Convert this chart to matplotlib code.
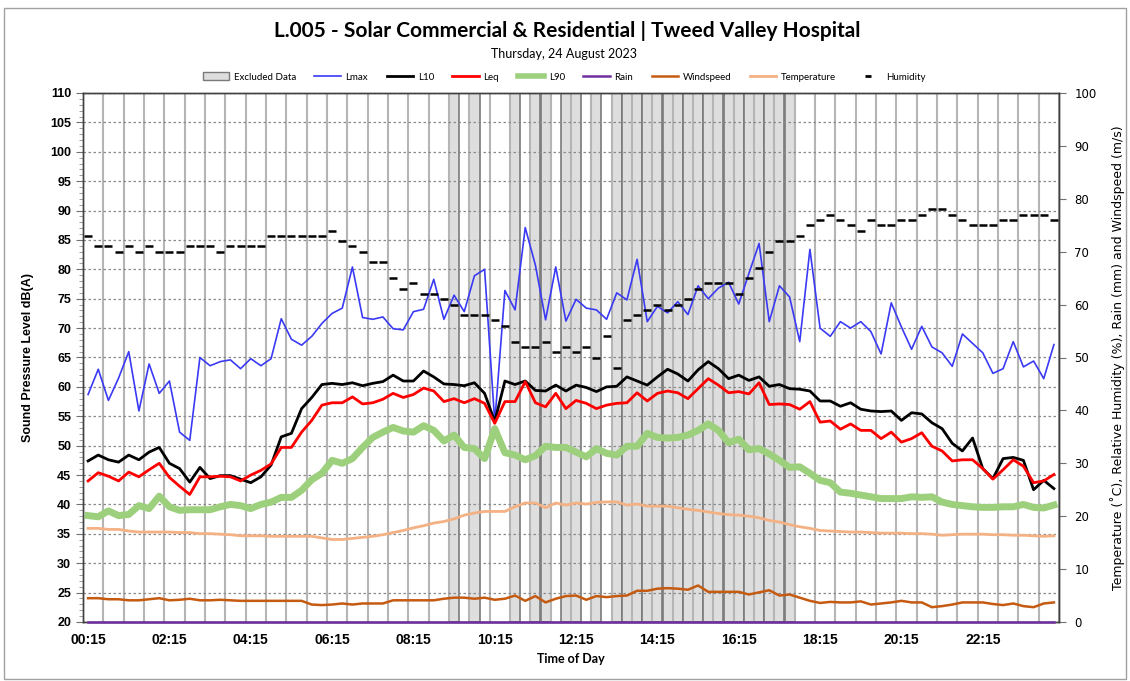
import numpy as np
import matplotlib.pyplot as plt
from matplotlib.patches import Patch, Rectangle
from matplotlib.lines import Line2D

# one value per 15 minute interval, 00:15 ... 24:00
tick_labels = ['00:15', '02:15', '04:15', '06:15', '08:15', '10:15',
               '12:15', '14:15', '16:15', '18:15', '20:15', '22:15']

# 1 = interval excluded from the analysis (grey column)
excluded = [0, 0, 0, 0, 0, 0, 0, 0, 0, 0, 0, 0, 0, 0, 0, 0, 0, 0, 0, 0, 0, 0, 0, 0,
            0, 0, 0, 0, 0, 0, 0, 0, 0, 0, 0, 0, 1, 0, 1, 0, 0, 0, 1, 0, 1, 1, 0, 1,
            1, 0, 1, 0, 1, 1, 1, 1, 1, 1, 1, 1, 1, 1, 1, 1, 1, 1, 1, 1, 1, 1, 0, 0,
            0, 0, 0, 0, 0, 0, 0, 0, 0, 0, 0, 0, 0, 0, 0, 0, 0, 0, 0, 0, 0, 0, 0, 0]

lmax = [58.7, 63.0, 57.7, 61.5, 66.0, 55.9, 63.9, 58.9, 61.0, 52.3, 50.9, 65.0,
        63.6, 64.3, 64.6, 63.1, 64.8, 63.6, 64.8, 71.6, 68.1, 67.1, 68.6, 70.8,
        72.5, 73.4, 80.4, 71.8, 71.5, 71.9, 69.9, 69.7, 72.8, 73.2, 78.3, 71.5,
        75.6, 72.8, 78.9, 80.0, 54.0, 76.4, 73.1, 87.1, 80.7, 71.4, 80.4, 71.2,
        74.9, 73.4, 73.1, 71.5, 76.0, 74.8, 81.7, 71.1, 73.7, 72.6, 74.5, 72.3,
        77.2, 75.0, 76.8, 77.8, 74.1, 79.3, 84.4, 71.1, 77.2, 75.3, 67.7, 83.4,
        70.0, 68.6, 71.1, 70.0, 71.1, 69.4, 65.6, 74.3, 70.2, 66.4, 70.3, 66.8,
        65.8, 63.5, 69.0, 67.4, 65.8, 62.3, 63.1, 67.7, 63.4, 64.4, 61.4, 67.2]

l10 = [47.4, 48.4, 47.6, 47.2, 48.4, 47.6, 48.9, 49.7, 47.0, 46.1, 43.8, 46.3,
       44.4, 44.9, 44.9, 44.3, 43.7, 44.7, 46.7, 51.5, 52.1, 56.3, 58.2, 60.4,
       60.6, 60.4, 60.7, 60.2, 60.6, 60.9, 62.0, 61.0, 61.0, 62.7, 61.7, 60.5,
       60.4, 60.2, 60.7, 58.9, 54.1, 61.0, 60.4, 61.0, 59.4, 59.3, 60.3, 59.3,
       60.3, 59.9, 59.2, 60.0, 60.1, 61.7, 61.0, 60.3, 61.7, 63.0, 62.2, 61.0,
       62.9, 64.3, 63.1, 61.4, 62.0, 61.1, 61.7, 60.1, 60.4, 59.7, 59.6, 59.3,
       57.6, 57.6, 56.7, 57.3, 56.2, 55.9, 55.8, 55.9, 54.3, 55.6, 55.4, 53.9,
       52.9, 50.4, 49.1, 51.3, 46.1, 44.4, 47.8, 48.0, 47.5, 42.5, 44.1, 42.7]

leq = [44.0, 45.4, 44.8, 44.0, 45.5, 44.7, 45.9, 47.0, 44.6, 43.1, 41.7, 44.7,
       44.7, 44.8, 44.7, 44.0, 45.0, 45.8, 46.9, 49.7, 49.7, 52.3, 54.3, 56.9,
       57.3, 57.3, 58.3, 57.1, 57.3, 57.9, 58.9, 58.2, 58.7, 59.8, 59.3, 57.5,
       58.0, 57.3, 58.0, 57.2, 53.8, 57.5, 57.5, 60.9, 57.3, 56.6, 58.9, 56.3,
       57.7, 57.2, 56.3, 56.9, 57.2, 57.3, 59.0, 57.6, 58.9, 59.3, 59.0, 58.0,
       59.7, 61.4, 60.3, 59.0, 59.2, 58.8, 60.7, 57.0, 57.1, 57.0, 56.2, 57.5,
       54.0, 54.2, 52.8, 53.7, 52.6, 52.6, 51.2, 52.3, 50.6, 51.2, 52.2, 49.9,
       49.1, 47.4, 47.6, 47.6, 46.1, 44.3, 45.9, 47.6, 46.5, 43.7, 44.0, 45.1]

l90 = [38.1, 37.9, 38.9, 38.1, 38.3, 39.8, 39.3, 41.4, 39.6, 39.0, 39.1, 39.1,
       39.1, 39.6, 40.0, 39.8, 39.3, 40.0, 40.4, 41.2, 41.2, 42.4, 44.2, 45.3,
       47.5, 47.0, 47.8, 49.7, 51.4, 52.3, 53.1, 52.5, 52.3, 53.4, 52.6, 50.8,
       51.8, 49.7, 49.5, 47.8, 52.9, 48.8, 48.4, 47.6, 48.3, 49.9, 49.7, 49.7,
       48.9, 48.1, 49.5, 48.7, 48.4, 49.9, 49.9, 52.1, 51.4, 51.3, 51.4, 51.8,
       52.6, 53.7, 52.6, 50.5, 51.1, 49.3, 49.5, 48.6, 47.5, 46.3, 46.4, 45.3,
       44.1, 43.7, 42.1, 41.9, 41.6, 41.3, 41.0, 41.0, 41.0, 41.3, 41.2, 41.3,
       40.4, 40.0, 39.8, 39.6, 39.5, 39.5, 39.6, 39.6, 40.0, 39.5, 39.4, 39.9]

rain = [0, 0, 0, 0, 0, 0, 0, 0, 0, 0, 0, 0, 0, 0, 0, 0, 0, 0, 0, 0, 0, 0, 0, 0,
        0, 0, 0, 0, 0, 0, 0, 0, 0, 0, 0, 0, 0, 0, 0, 0, 0, 0, 0, 0, 0, 0, 0, 0,
        0, 0, 0, 0, 0, 0, 0, 0, 0, 0, 0, 0, 0, 0, 0, 0, 0, 0, 0, 0, 0, 0, 0, 0,
        0, 0, 0, 0, 0, 0, 0, 0, 0, 0, 0, 0, 0, 0, 0, 0, 0, 0, 0, 0, 0, 0, 0, 0]

windspeed = [4.5, 4.5, 4.3, 4.3, 4.1, 4.1, 4.3, 4.5, 4.1, 4.2, 4.4, 4.1,
             4.1, 4.2, 4.1, 4.0, 4.0, 4.0, 4.0, 4.0, 4.0, 4.0, 3.3, 3.2,
             3.3, 3.5, 3.3, 3.5, 3.5, 3.5, 4.1, 4.1, 4.1, 4.1, 4.1, 4.4,
             4.6, 4.6, 4.4, 4.6, 4.2, 4.4, 5.0, 4.0, 4.9, 3.7, 4.4, 4.9,
             5.0, 4.2, 4.9, 4.7, 4.9, 5.0, 5.9, 5.9, 6.3, 6.4, 6.3, 6.1,
             6.9, 5.7, 5.7, 5.7, 5.7, 5.2, 5.6, 6.0, 5.0, 5.2, 4.6, 4.0,
             3.6, 3.8, 3.7, 3.7, 3.9, 3.3, 3.5, 3.7, 4.0, 3.7, 3.7, 2.8,
             3.0, 3.3, 3.7, 3.7, 3.7, 3.4, 3.2, 3.5, 3.0, 2.8, 3.5, 3.7]

temperature = [17.7, 17.7, 17.5, 17.5, 17.2, 17.0, 17.0, 17.0, 17.0, 16.9, 16.9, 16.7,
               16.7, 16.6, 16.5, 16.3, 16.3, 16.3, 16.2, 16.2, 16.2, 16.2, 16.2, 15.9,
               15.6, 15.6, 15.8, 16.0, 16.2, 16.5, 16.9, 17.3, 17.8, 18.2, 18.7, 19.0,
               19.5, 20.2, 20.6, 20.9, 20.9, 20.9, 21.8, 22.5, 22.5, 21.6, 22.5, 22.1,
               22.5, 22.3, 22.6, 22.7, 22.7, 22.1, 22.3, 21.9, 21.9, 21.9, 21.6, 21.3,
               21.1, 20.8, 20.5, 20.3, 20.2, 20.0, 19.7, 19.2, 18.9, 18.4, 18.0, 17.7,
               17.3, 17.2, 17.1, 17.0, 17.0, 16.9, 16.8, 16.8, 16.8, 16.7, 16.7, 16.6,
               16.4, 16.5, 16.6, 16.6, 16.6, 16.5, 16.5, 16.4, 16.4, 16.3, 16.2, 16.3]

humidity = [73, 71, 71, 70, 71, 70, 71, 70, 70, 70, 71, 71,
            71, 70, 71, 71, 71, 71, 73, 73, 73, 73, 73, 73,
            74, 72, 71, 70, 68, 68, 65, 63, 64, 62, 62, 61,
            60, 58, 58, 58, 57, 56, 53, 52, 52, 53, 51, 52,
            51, 52, 50, 54, 48, 57, 58, 59, 60, 59, 60, 61,
            63, 64, 64, 64, 62, 65, 67, 70, 72, 72, 73, 75,
            76, 77, 76, 75, 74, 76, 75, 75, 76, 76, 77, 78,
            78, 77, 76, 75, 75, 75, 76, 76, 77, 77, 77, 76]

n = len(l10)
x = np.arange(n) + 0.5
W, H = 1130, 681

fig = plt.figure(figsize=(W / 100, H / 100), dpi=100)
ax = fig.add_axes([83 / W, 1 - 622 / H, 976 / W, 529 / H])

ex_x = [x[i] for i in range(n) if excluded[i]]
ax.bar(ex_x, [90] * len(ex_x), bottom=20, width=1.0, color='#dedede',
       edgecolor='#7a7a7a', linewidth=1.2, zorder=1)

ax.plot(x, lmax, color='#3a3af5', lw=1.2, zorder=3)
ax.plot(x, l10, color='black', lw=2.0, zorder=3)
ax.plot(x, leq, color='#ff0000', lw=2.0, zorder=3)
ax.plot(x, l90, color='#9dd07c', lw=5.0, zorder=3, solid_joinstyle='round')

ax.set_xlim(0, n)
ax.set_ylim(20, 110)
ax.set_axisbelow('line')

ax.set_xticks([x[i] for i in range(0, n, 8)])
ax.set_xticklabels(tick_labels, fontfamily='Liberation Sans', fontweight='bold', fontsize=10)
ax.set_xticks(np.arange(0, n + 1, 2), minor=True)
ax.tick_params(axis='x', which='both', length=0, pad=8)
ax.grid(axis='x', which='minor', color='#b5b5b5', lw=1.5)

yt = list(range(20, 111, 5))
ax.set_yticks(yt)
ax.set_yticklabels([str(v) for v in yt], fontfamily='Liberation Sans', fontweight='bold', fontsize=9)
ax.set_yticks(range(20, 111), minor=True)
ax.tick_params(axis='y', which='major', length=5, color='#707070', direction='out')
ax.tick_params(axis='y', which='minor', length=3, color='#909090', direction='out')
ax.grid(axis='y', which='major', color='#8a8a8a', lw=0.9, ls=(0, (2, 2)))

ax.set_ylabel('Sound Pressure Level dB(A)', fontfamily='Liberation Sans', fontweight='bold',
              fontsize=9, labelpad=12)
ax.set_xlabel('Time of Day', fontfamily='Lato', fontweight='bold', fontsize=9, labelpad=4)

ax2 = ax.twinx()
ax2.plot(x, rain, color='#7030a0', lw=1.8, clip_on=False, zorder=4)
ax2.plot(x, windspeed, color='#c55a11', lw=1.8)
ax2.plot(x, temperature, color='#f4b183', lw=2.0)
ax2.plot(x, humidity, ls='none', marker='_', ms=6, mew=1.8, color='black')
ax2.set_ylim(0, 100)
ax2.set_yticks(range(0, 101, 10))
ax2.set_yticklabels([str(v) for v in range(0, 101, 10)], fontfamily='DejaVu Sans', fontsize=8.5)
ax2.tick_params(axis='y', length=5, color='#707070', pad=6)
ax2.set_ylabel('Temperature (˚C), Relative Humidity (%), Rain (mm) and Windspeed (m/s)',
               fontfamily='DejaVu Sans', fontsize=9, labelpad=10)

for a in (ax, ax2):
    for s in a.spines.values():
        s.set_color('#404040')
        s.set_linewidth(1.0)

fig.text(567 / W, 1 - 31 / H, 'L.005 - Solar Commercial & Residential | Tweed Valley Hospital',
         ha='center', va='center', fontfamily='Lato', fontweight='bold', fontsize=15)
fig.text(564 / W, 1 - 54 / H, 'Thursday, 24 August 2023', ha='center', va='center',
         fontfamily='Lato', fontsize=9)

handles = [Patch(facecolor='#dedede', edgecolor='#7a7a7a', lw=1.0),
           Line2D([], [], color='#3a3af5', lw=1.2),
           Line2D([], [], color='black', lw=2.0),
           Line2D([], [], color='#ff0000', lw=2.0),
           Line2D([], [], color='#9dd07c', lw=4.0),
           Line2D([], [], color='#7030a0', lw=1.8),
           Line2D([], [], color='#c55a11', lw=1.8),
           Line2D([], [], color='#f4b183', lw=2.0),
           Line2D([], [], ls='none', marker='_', ms=5, mew=2, color='black')]
names = ['Excluded Data', 'Lmax', 'L10', 'Leq', 'L90', 'Rain', 'Windspeed', 'Temperature', 'Humidity']
fig.legend(handles, names, loc='center', bbox_to_anchor=(564 / W, 1 - 77 / H), ncol=9,
           frameon=False, prop={'family': 'Lato', 'size': 7}, handlelength=2.7,
           handleheight=0.8, handletextpad=0.5, columnspacing=1.9)

fig.add_artist(Rectangle((4 / W, 2 / H), 1 - 8 / W, 1 - 10 / H, transform=fig.transFigure,
                         fill=False, edgecolor='#a0a0a0', lw=1.0))

fig.savefig('out.png', dpi=100)
